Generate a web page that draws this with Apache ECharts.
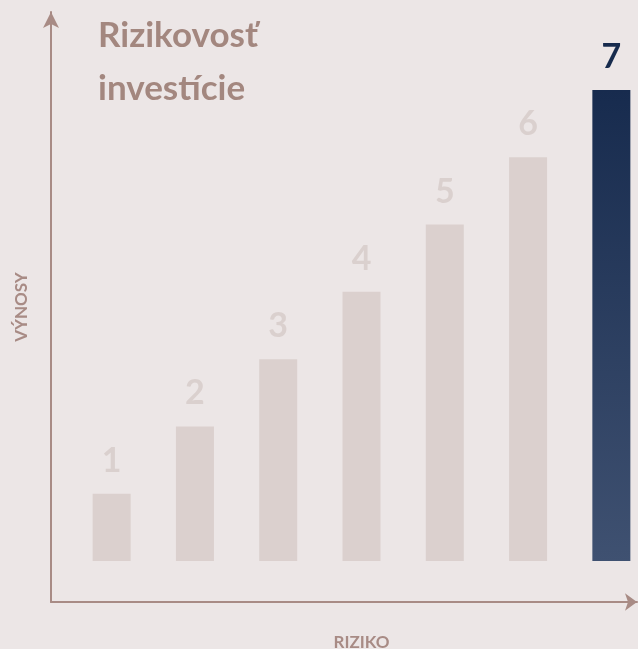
<!DOCTYPE html>
<html>
<head>
<meta charset="utf-8">
<script src="https://cdn.jsdelivr.net/npm/echarts@6/dist/echarts.min.js"></script>
<style>
  html, body { margin: 0; padding: 0; background: #ece6e6; }
  #chart { width: 638px; height: 649px; }
</style>
</head>
<body>
<div id="chart"></div>
<script>
// risk levels 1..7, bar height = level
var categories = ['1', '2', '3', '4', '5', '6', '7'];
var values = [1, 2, 3, 4, 5, 6, 7];
var highlightIndex = 6;

var titleText = 'Rizikovosť\ninvestície';
var xName = 'RIZIKO';
var yName = 'VÝNOSY';

var axisColor = '#a88b85';
var lightBar = '#dbd0ce';
var lightLabel = '#dad0ce';
var darkLabel = '#172b4d';

var myEcharts = echarts.init(document.getElementById('chart'));

var barData = values.map(function (v, i) {
  if (i === highlightIndex) {
    return {
      value: v,
      itemStyle: {
        color: new echarts.graphic.LinearGradient(0, 0, 0, 1, [
          { offset: 0, color: '#172b4e' },
          { offset: 1, color: '#3f5171' }
        ])
      },
      label: { color: darkLabel }
    };
  }
  return { value: v, itemStyle: { color: lightBar }, label: { color: lightLabel } };
});

var option = {
  backgroundColor: '#ece6e6',
  animation: false,
  title: {
    text: titleText,
    left: 93,
    top: 4,
    textStyle: {
      fontFamily: 'Lato',
      fontWeight: 'bold',
      fontSize: 35,
      lineHeight: 53,
      color: '#a3877f'
    }
  },
  grid: [
    { left: 70, top: 90, width: 583, height: 471, outerBoundsMode: 'none' },
    // grid that only carries the two arrow axes
    { left: 51, top: 12, width: 586, height: 590, outerBoundsMode: 'none' }
  ],
  xAxis: [
    {
      type: 'category',
      gridIndex: 0,
      data: categories,
      name: xName,
      nameLocation: 'middle',
      nameGap: 73,
      nameTextStyle: { fontFamily: 'Lato', fontWeight: 'bold', fontSize: 17, color: axisColor },
      axisLine: { show: false },
      axisTick: { show: false },
      axisLabel: { show: false }
    },
    {
      type: 'value',
      gridIndex: 1,
      min: 0,
      max: 1,
      axisLine: {
        show: true,
        onZero: false,
        symbol: ['none', 'arrow'],
        symbolSize: [13, 12],
        lineStyle: { color: axisColor, width: 2 }
      },
      axisTick: { show: false },
      axisLabel: { show: false },
      splitLine: { show: false }
    }
  ],
  yAxis: [
    {
      type: 'value',
      gridIndex: 0,
      min: 0,
      max: 7,
      axisLine: { show: false },
      axisTick: { show: false },
      axisLabel: { show: false },
      splitLine: { show: false }
    },
    {
      type: 'value',
      gridIndex: 1,
      min: 0,
      max: 1,
      name: yName,
      nameLocation: 'middle',
      nameGap: 21,
      nameTextStyle: { fontFamily: 'Lato', fontWeight: 'bold', fontSize: 17, color: axisColor },
      axisLine: {
        show: true,
        onZero: false,
        symbol: ['none', 'arrow'],
        symbolSize: [12, 16],
        lineStyle: { color: axisColor, width: 2 }
      },
      axisTick: { show: false },
      axisLabel: { show: false },
      splitLine: { show: false }
    }
  ],
  series: [
    {
      type: 'bar',
      xAxisIndex: 0,
      yAxisIndex: 0,
      barWidth: 38,
      data: barData,
      label: {
        show: true,
        position: 'top',
        distance: 16,
        fontFamily: 'Lato',
        fontWeight: 'bold',
        fontSize: 34,
        formatter: function (p) { return categories[p.dataIndex]; }
      }
    }
  ]
};

myEcharts.setOption(option, true);
</script>
</body>
</html>
